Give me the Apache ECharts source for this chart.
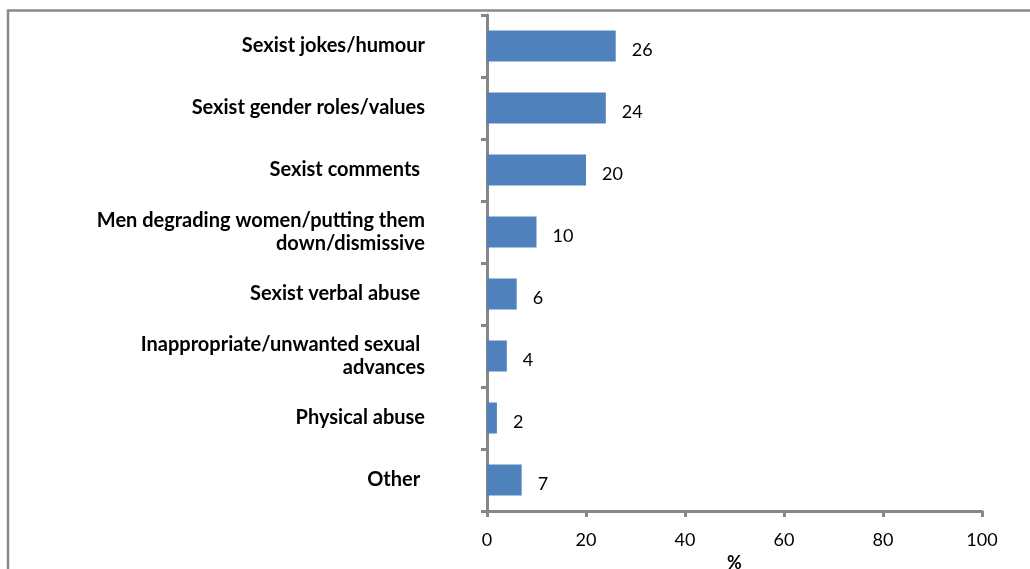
<!DOCTYPE html>
<html>
<head>
<meta charset="utf-8">
<script src="https://cdn.jsdelivr.net/npm/echarts@6/dist/echarts.min.js"></script>
<style>
  html, body { margin: 0; padding: 0; background: #fff; }
  #chart { width: 1030px; height: 569px; }
</style>
</head>
<body>
<div id="chart"></div>
<script>
// Types of sexism experienced (%)
const categories = [
  'Sexist jokes/humour',
  'Sexist gender roles/values',
  'Sexist comments ',
  'Men degrading women/putting them\ndown/dismissive',
  'Sexist verbal abuse ',
  'Inappropriate/unwanted sexual \nadvances',
  'Physical abuse',
  'Other '
];
const values = [26, 24, 20, 10, 6, 4, 2, 7];
const xTicks = [0, 20, 40, 60, 80, 100];

const axisGrey = '#868686';
const fontFamily = 'Lato, "Open Sans", "DejaVu Sans", sans-serif';

const chart = echarts.init(document.getElementById('chart'), null, { renderer: 'canvas' });
chart.setOption({
  animation: false,
  backgroundColor: '#ffffff',
  graphic: [{
    type: 'rect',
    shape: { x: 8, y: 10.5, width: 1200, height: 700 },
    style: { fill: 'none', stroke: '#8a8a8a', lineWidth: 2.5 },
    silent: true
  }],
  grid: { left: 487, right: 48, top: 15, bottom: 58, containLabel: false, outerBoundsMode: 'none' },
  xAxis: {
    type: 'value',
    min: xTicks[0],
    max: xTicks[xTicks.length - 1],
    interval: 20,
    name: '%',
    nameLocation: 'middle',
    nameGap: 41,
    nameTextStyle: { fontFamily, fontWeight: 'bold', fontSize: 18, color: '#000' },
    axisLine: { show: true, lineStyle: { color: axisGrey, width: 3 } },
    axisTick: { show: true, length: 6, lineStyle: { color: axisGrey, width: 3 } },
    axisLabel: { fontFamily, fontSize: 18, color: '#000', margin: 20 },
    splitLine: { show: false }
  },
  yAxis: {
    type: 'category',
    data: categories,
    inverse: true,
    axisLine: { show: true, lineStyle: { color: axisGrey, width: 3 } },
    axisTick: { show: true, length: 6, alignWithLabel: false, lineStyle: { color: axisGrey, width: 3 } },
    axisLabel: {
      fontFamily, fontSize: 20, fontWeight: 'bold', color: '#000',
      margin: 62, align: 'right', lineHeight: 23, padding: [6, 0, 0, 0]
    }
  },
  series: [{
    type: 'bar',
    data: values,
    barWidth: 31,
    itemStyle: { color: '#4F81BD' },
    label: {
      show: true,
      position: 'right',
      distance: 16,
      offset: [0, 4],
      fontFamily, fontSize: 18, color: '#000'
    }
  }]
});
</script>
</body>
</html>
